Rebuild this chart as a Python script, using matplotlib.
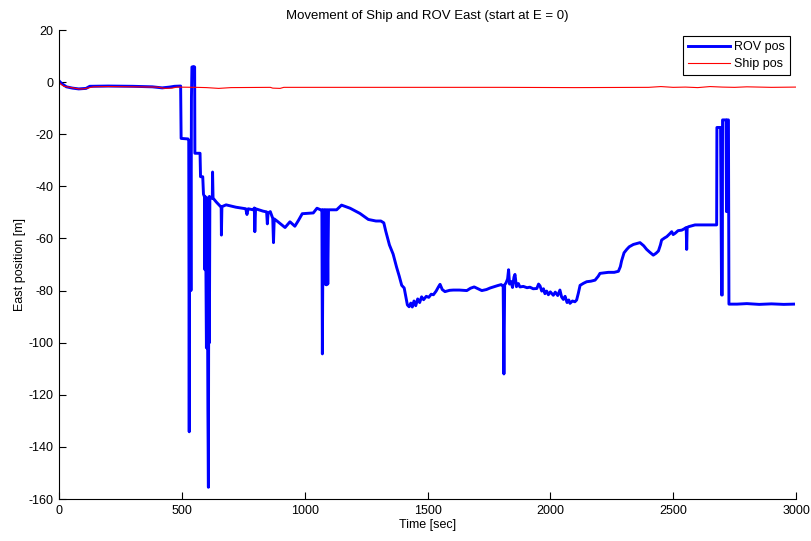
import matplotlib
matplotlib.use("Agg")
import matplotlib.pyplot as plt

# ROV east position over time (seconds, metres)
rov_t = [0, 10, 30, 55, 80, 110, 125, 200, 300, 380, 420, 450, 470, 495,
         497, 525, 528, 530, 532, 535, 537, 539, 541, 548, 552, 553, 574, 576,
         585, 588, 592, 594, 596, 600, 603, 606, 608, 610, 612, 614, 620, 624,
         625, 627, 640, 655, 660, 661, 663, 680, 720, 760, 765, 770, 790, 795,
         797, 800, 830, 845, 848, 851, 860, 870, 873, 876, 890, 920, 940, 960,
         975, 990, 1035, 1050, 1065, 1070, 1072, 1075, 1080, 1082, 1085, 1088,
         1091, 1094, 1097, 1130, 1150, 1185, 1225, 1259, 1290, 1310, 1322,
         1330, 1345, 1360, 1374, 1385, 1395, 1405, 1412, 1418, 1425, 1432,
         1438, 1445, 1452, 1460, 1468, 1476, 1484, 1495, 1505, 1515, 1524,
         1535, 1545, 1551, 1560, 1571, 1590, 1605, 1630, 1660, 1675, 1690,
         1705, 1721, 1740, 1755, 1768, 1785, 1800, 1808, 1811, 1814, 1820,
         1826, 1830, 1834, 1840, 1846, 1852, 1856, 1862, 1870, 1876, 1890,
         1905, 1917, 1930, 1945, 1952, 1958, 1965, 1972, 1978, 1985, 1992,
         2000, 2012, 2020, 2030, 2039, 2046, 2053, 2060, 2068, 2075, 2080,
         2090, 2100, 2107, 2114, 2121, 2135, 2148, 2165, 2182, 2195, 2202,
         2220, 2236, 2260, 2277, 2285, 2290, 2300, 2311, 2321, 2338, 2365,
         2380, 2392, 2405, 2419, 2430, 2440, 2448, 2453, 2465, 2474, 2485,
         2494, 2500, 2508, 2520, 2535, 2545, 2553, 2555, 2557, 2562, 2589,
         2640, 2677, 2678, 2693, 2697, 2700, 2701, 2715, 2717, 2719, 2725,
         2727, 2760, 2800, 2850, 2900, 2950, 2990]
rov_e = [0.5, -0.5, -1.8, -2.3, -2.6, -2.4, -1.6, -1.5, -1.6, -1.8, -2.2,
         -1.9, -1.6, -1.5,
         -21.6, -21.8, -22.5, -134.2, -22.5, -24.0, -80.0, -6.0, 5.8, 6.0,
         5.8, -27.3, -27.3, -36.3, -36.3, -43.0, -44.0, -72.0, -44.0, -102.0,
         -45.0, -126.0, -155.5, -44.0, -100.0, -44.0, -44.5, -44.5, -34.5,
         -44.5, -46.0, -47.5, -47.8, -58.7, -47.8, -47.1, -48.0, -48.6, -50.8,
         -48.6, -49.0, -48.3, -57.4, -48.6, -49.5, -49.8, -54.4, -50.2, -49.7,
         -52.3, -61.6, -52.5, -53.5, -55.8, -53.6, -55.3, -53.0, -50.5, -50.2,
         -48.4, -49.0, -49.0, -104.3, -49.0, -49.0, -77.5, -49.0, -77.8,
         -49.0, -77.5, -49.0, -49.0, -47.2, -48.4, -50.4, -52.7, -53.3, -53.3,
         -54.0, -57.2, -62.5, -66.0, -71.0, -74.5, -78.0, -79.0, -82.5, -85.5,
         -86.2, -84.8, -86.3, -84.0, -85.8, -83.2, -84.6, -82.4, -83.5, -82.2,
         -82.6, -81.4, -81.6, -80.2, -78.5, -77.6, -79.6, -80.4, -79.9, -79.8,
         -79.8, -80.0, -79.1, -78.6, -79.3, -80.0, -79.6, -79.0, -78.6, -78.1,
         -77.7, -78.4, -112.0, -77.8, -77.0, -75.5, -72.0, -77.5, -76.5,
         -78.8, -74.8, -73.8, -78.5, -77.3, -78.6, -78.4, -78.9, -78.7, -79.3,
         -79.2, -77.5, -78.2, -80.2, -79.3, -81.2, -80.2, -81.6, -80.5, -81.8,
         -80.6, -81.9, -79.8, -82.5, -83.4, -82.2, -84.6, -83.6, -84.9, -84.0,
         -84.3, -83.6, -81.0, -78.0, -77.2, -76.6, -76.4, -76.0, -74.5, -73.4,
         -73.2, -73.0, -73.0, -72.6, -70.8, -68.6, -65.5, -64.2, -63.2, -62.3,
         -61.6, -62.8, -64.2, -65.3, -66.4, -65.7, -64.8, -62.5, -60.6, -59.8,
         -59.3, -58.3, -57.4, -58.5, -58.0, -57.0, -56.8, -56.3, -55.8, -64.2,
         -55.9, -55.5, -54.8, -54.8, -54.8, -17.4, -17.4, -81.7, -81.7, -14.5,
         -14.5, -49.7, -14.5, -14.5, -85.2, -85.2, -85.0, -85.3, -85.1, -85.3,
         -85.2]

# Ship east position over time (seconds, metres)
ship_t = [0, 8, 20, 50, 80, 100, 120, 140, 200, 300, 400, 430, 460, 480,
          560, 600, 650, 700, 860, 870, 900, 915, 1000, 1200, 1500, 1800,
          2100, 2400, 2450, 2500, 2550, 2600, 2650, 2700, 2750, 2800, 2900,
          3000]
ship_e = [0.0, -0.8, -1.6, -2.1, -2.6, -2.6, -2.2, -1.8, -1.7, -1.8, -1.9,
          -2.4, -2.3, -1.9, -2.0, -2.1, -2.4, -2.1, -2.0, -2.3, -2.4, -2.0,
          -2.0, -2.0, -2.0, -2.0, -2.1, -2.0, -1.7, -2.0, -1.9, -2.1, -1.7,
          -1.9, -2.0, -1.8, -2.0, -1.9]

x_ticks = [0, 500, 1000, 1500, 2000, 2500, 3000]
y_ticks = [-160, -140, -120, -100, -80, -60, -40, -20, 0, 20]

plt.rcParams["font.family"] = ["Liberation Sans", "DejaVu Sans"]
plt.rcParams["axes.unicode_minus"] = False

fig = plt.figure(figsize=(8.12, 5.41), dpi=100)
ax = fig.add_axes([0.0727, 0.0776, 0.9076, 0.8669])

ax.plot(rov_t, rov_e, color="#0000ff", linewidth=2.1, label="ROV pos")
ax.plot(ship_t, ship_e, color="#ff0000", linewidth=0.8, label="Ship pos")

ax.set_xlim(0, 3000)
ax.set_ylim(-160, 20)
ax.set_xticks(x_ticks)
ax.set_yticks(y_ticks)
ax.tick_params(direction="in", length=5, width=0.8, labelsize=9, pad=4)
for side in ("top", "right"):
    ax.spines[side].set_visible(False)
for side in ("left", "bottom"):
    ax.spines[side].set_linewidth(0.8)

ax.set_title("Movement of Ship and ROV East (start at E = 0)", fontsize=9.5, pad=8)
ax.set_xlabel("Time [sec]", fontsize=9, labelpad=2)
ax.set_ylabel("East position [m]", fontsize=9, labelpad=2)

leg = ax.legend(loc="upper right", fontsize=9, fancybox=False,
                framealpha=1, edgecolor="black", borderpad=0.4,
                handlelength=3.4, handletextpad=0.3, labelspacing=0.4,
                borderaxespad=0.5)
leg.get_frame().set_linewidth(0.8)

fig.savefig("out.png", dpi=100)
